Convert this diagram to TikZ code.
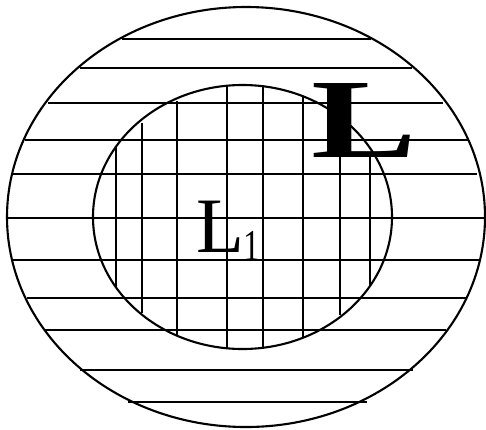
\documentclass[tikz,border=0pt]{standalone}
\usepackage{fontspec}
\setmainfont{Liberation Serif}
\usepackage{tikz}

\begin{document}
\begin{tikzpicture}[
  x=1pt, y=-1pt,
  outline/.style={draw=black, line width=2.1pt},
  hatch/.style={draw=black, line width=2pt},
  setlabel/.style={inner sep=0pt, outer sep=0pt, anchor=base west},
]
\useasboundingbox (0,0) rectangle (486,429);

% Outer region L
\draw[outline] (246,217) ellipse [x radius=239pt, y radius=210pt];

% Inner region L1
\draw[outline] (242.5,217) ellipse [x radius=149.5pt, y radius=132pt];

% Horizontal hatching (y / left / right)
\foreach \yy/\xa/\xb in {39/122/371, 68/80/412, 103/48/443, 140/25/468,
    174/13/477, 218/7/484, 260/12/481, 298/27/467, 330/45/446,
    370/80/413, 402/128/367}
  \draw[hatch] (\xa,\yy) -- (\xb,\yy);

% Vertical hatching (x / top / bottom)
\foreach \xx/\ya/\yb in {116/147/287, 142/123/313, 177/101/335, 227/86/349,
    263/86/349, 303/97/338, 340/157/315, 370/157/286}
  \draw[hatch] (\xx,\ya) -- (\xx,\yb);

% Labels
\node[setlabel] (bigL) at (311,157)
  {\scalebox{1.4}[1]{\fontsize{113}{113}\selectfont\bfseries L}};
\node[setlabel] (smallL) at (196,252)
  {\fontsize{78.5}{78.5}\selectfont L\raisebox{-8pt}{\scalebox{0.75}[1]{\fontsize{44}{44}\selectfont 1}}};
\end{tikzpicture}
\end{document}
